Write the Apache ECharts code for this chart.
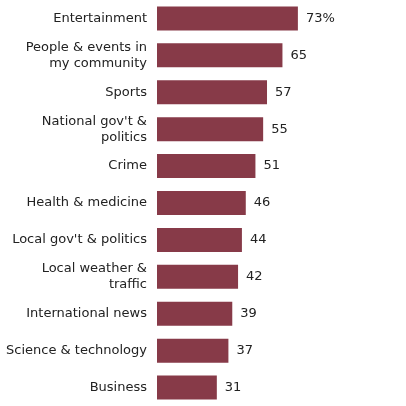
<!DOCTYPE html><html><head><meta charset="utf-8"><script src="https://cdn.jsdelivr.net/npm/echarts@6/dist/echarts.min.js"></script></head><body style="margin:0"><div id="c" style="width:406px;height:406px"></div><script>
const categories=["Entertainment","People & events in\nmy community","Sports","National gov't &\npolitics","Crime","Health & medicine","Local gov't & politics","Local weather &\ntraffic","International news","Science & technology","Business"];
const values=[73,65,57,55,51,46,44,42,39,37,31];
const valueLabels=["73%","65","57","55","51","46","44","42","39","37","31"];
const ch=echarts.init(document.getElementById('c'));
ch.setOption({animation:false,grid:{left:157,right:56,top:0,bottom:0},
xAxis:{type:'value',min:0,max:100,show:false},
yAxis:{type:'category',inverse:true,data:categories,axisLine:{show:false},axisTick:{show:false},
axisLabel:{fontFamily:'DejaVu Sans',fontSize:13,color:'#222',margin:10,lineHeight:16}},
series:[{type:'bar',data:values,barWidth:24,itemStyle:{color:'#873A48'},
label:{show:true,position:'right',distance:8,fontFamily:'DejaVu Sans',fontSize:13,color:'#222',formatter:p=>valueLabels[p.dataIndex]}}]});
</script></body></html>
